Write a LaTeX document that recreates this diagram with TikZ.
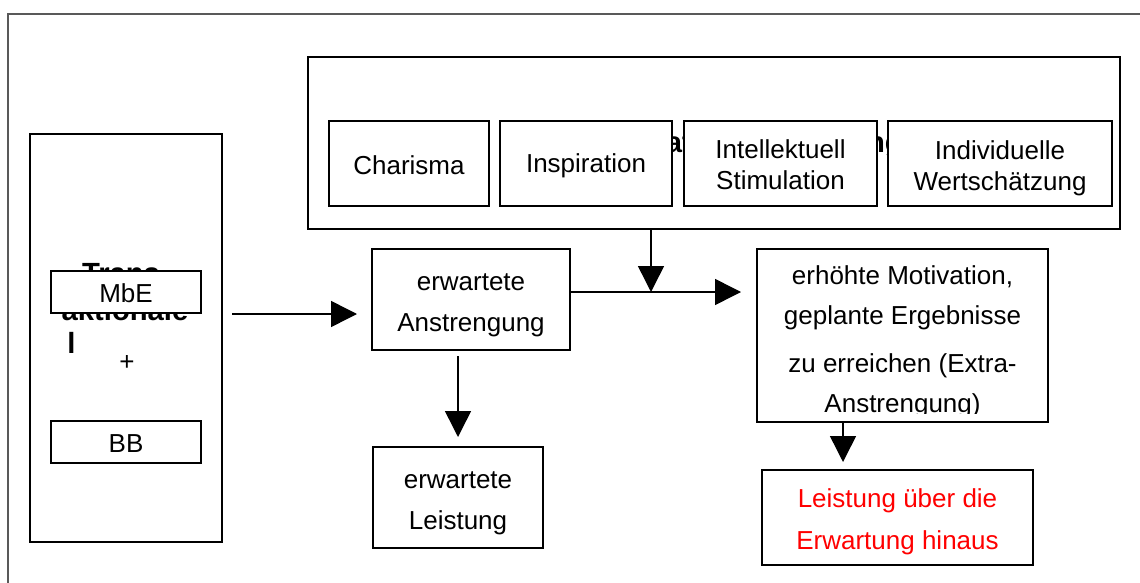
\documentclass[tikz,border=0pt]{standalone}
\usepackage{fontspec}
\setmainfont{Liberation Sans}
\usetikzlibrary{arrows.meta,calc}
\newcommand{\boxfont}[1]{\fontsize{13pt}{#1}\selectfont}
\newcommand{\headfont}{\fontsize{14.6pt}{16.5pt}\selectfont\bfseries}
\begin{document}
\begin{tikzpicture}[x=0.5pt,y=-0.5pt,
  box/.style={draw=black,line width=1pt,fill=white,inner sep=0pt},
  wide/.style={minimum width=#1},
  tall/.style={minimum height=#1},
  label text/.style={inner sep=0pt,align=center,font=\boxfont{#1}},
  arr/.style={draw=black,line width=0.75pt,-{Triangle[length=13pt,width=13pt]}},
  hidden/.style={inner sep=0pt,font=\headfont}
]
\useasboundingbox (0,0) rectangle (1140,583);
\fill[white] (0,0) rectangle (1140,583);

% page frame, running off the right and bottom edges
\draw[black!65,line width=1pt] (1160,14) -- (8,14) -- (8,600);

% ---- transactional leadership column ----
\node[box,wide=96pt,tall=204pt] (L) at (126,338) {};
\node[hidden,anchor=base] (tr1) at (121,283) {Trans};
\node[hidden,anchor=base] (tr2) at (125,320) {aktionale};
\node[hidden,anchor=base west] (tr3) at (67,353) {l};
\node[inner sep=0pt,font=\boxfont{16pt}] (plus) at (127,363) {+};
\node[box,wide=75pt,tall=21pt] (mbe) at (126,292) {};
\node[label text=15pt] (mbeT) at (126,293) {MbE};
\node[box,wide=75pt,tall=21pt] (bb) at (126,442) {};
\node[label text=15pt] (bbT) at (126,444) {BB};

% ---- transformational leadership frame ----
\node[box,wide=406pt,tall=86pt] (T) at (714,143) {};
\node[hidden,anchor=base] (tf) at (713,153) {Transformationale Führung};
\node[box,wide=80pt,tall=42.5pt] (cha) at (409,163.5) {};
\node[label text=15.5pt] (chaT) at (409,165.5) {Charisma};
\node[box,wide=86pt,tall=42.5pt] (ins) at (586,163.5) {};
\node[label text=15.5pt] (insT) at (586,165.5) {Inspiration};
\node[box,wide=96.5pt,tall=42.5pt] (int) at (780.5,163.5) {};
\node[label text=15.5pt] (intT) at (780.5,165) {Intellektuell\\Stimulation};
\node[box,wide=112pt,tall=42.5pt] (ind) at (1000,163.5) {};
\node[label text=15.5pt] (indT) at (1000,168) {Individuelle\\Wertschätzung};

% ---- effect chain ----
\node[box,wide=99pt,tall=50.5pt] (anst) at (471,299.5) {};
\node[label text=20.5pt] (anstT) at (471,305.5) {erwartete\\Anstrengung};
\node[box,wide=85pt,tall=50.5pt] (leist) at (458,497.5) {};
\node[label text=20.5pt] (leistT) at (458,503.5) {erwartete\\Leistung};
\node[box,wide=145.5pt,tall=86.5pt] (motiv) at (902.5,335.5) {};
\begin{scope}
  \clip (758,251) rectangle (1047,413);
  \node[label text=20pt] (motivT) at (902.5,342)
    {erhöhte Motivation,\\geplante Ergebnisse\\[4pt]zu erreichen (Extra-\\Anstrengung)};
\end{scope}
\node[box,wide=135.5pt,tall=47.5pt] (red) at (897.5,517.5) {};
\node[label text=21pt,text=red] (redT) at (897.5,521.5) {Leistung über die\\Erwartung hinaus};

% ---- connectors ----
\coordinate (src) at (232,314);
\coordinate (j) at (651,292);
\draw[arr,shorten >=7pt] (src) -- (src -| anst.west);
\draw[arr,shorten <=2.5pt,shorten >=4.5pt] (leist.north |- anst.south) -- (leist.north);
\draw[arr,shorten >=7.5pt] (anst.east |- j) -- (motiv.west |- j);
\draw[arr] (T.south -| j) -- (j);
\draw[arr,shorten >=3.5pt] ([xshift=-29.75pt]motiv.south) -- ([xshift=-29.75pt]motiv.south |- red.north);
\end{tikzpicture}
\end{document}
